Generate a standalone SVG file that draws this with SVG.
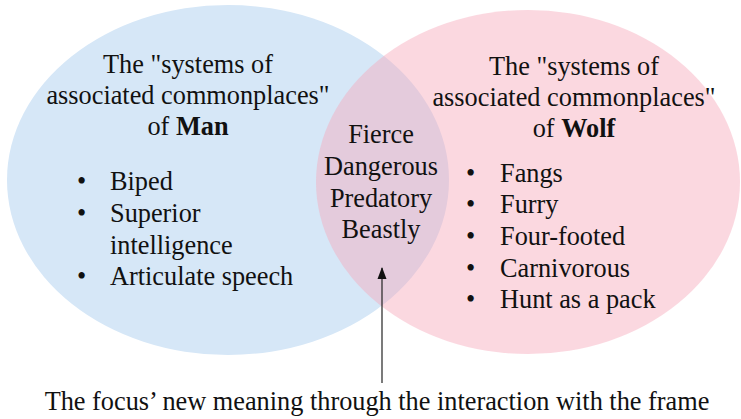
<svg xmlns="http://www.w3.org/2000/svg" width="741" height="419" viewBox="0 0 741 419" font-family="'Liberation Serif', 'Times New Roman', serif">
  <style>
    text { font-size: 26.3px; fill: #111; }
    .mid { text-anchor: middle; }
    .b { font-weight: bold; }
  </style>
  <defs>
    <marker id="arrowhead" viewBox="0 0 12 10" refX="11" refY="5" markerWidth="12" markerHeight="10" orient="auto" markerUnits="userSpaceOnUse">
      <path d="M0,0.5 L12,5 L0,9.5 Z" fill="#111"/>
    </marker>
  </defs>
  <rect width="741" height="419" fill="#ffffff"/>

  <!-- Man set -->
  <g id="man">
    <ellipse cx="228" cy="180" rx="221" ry="175" fill="#d6e7f7"/>
    <text class="mid" x="188" y="73">The "systems of</text>
    <text class="mid" x="188" y="104">associated commonplaces"</text>
    <text class="mid" x="188" y="135">of <tspan class="b">Man</tspan></text>
    <text x="77" y="190">•</text>
    <text x="110" y="190">Biped</text>
    <text x="77" y="222">•</text>
    <text x="110" y="222">Superior</text>
    <text x="110" y="254">intelligence</text>
    <text x="77" y="285">•</text>
    <text x="110" y="285">Articulate speech</text>
  </g>

  <!-- Wolf set -->
  <g id="wolf">
    <ellipse cx="528" cy="182" rx="212" ry="172" fill="#f7a8bb" fill-opacity="0.45"/>
    <text class="mid" x="574" y="75">The "systems of</text>
    <text class="mid" x="574" y="106">associated commonplaces"</text>
    <text class="mid" x="574" y="137">of <tspan class="b">Wolf</tspan></text>
    <text x="466" y="182">•</text>
    <text x="500" y="182">Fangs</text>
    <text x="466" y="213">•</text>
    <text x="500" y="213">Furry</text>
    <text x="466" y="245">•</text>
    <text x="500" y="245">Four-footed</text>
    <text x="466" y="277">•</text>
    <text x="500" y="277">Carnivorous</text>
    <text x="466" y="308">•</text>
    <text x="500" y="308">Hunt as a pack</text>
  </g>

  <!-- Shared attributes -->
  <g id="overlap">
    <text class="mid" x="381" y="143">Fierce</text>
    <text class="mid" x="381" y="175">Dangerous</text>
    <text class="mid" x="381" y="207">Predatory</text>
    <text class="mid" x="381" y="238">Beastly</text>
  </g>

  <!-- Connector -->
  <g id="connectors">
    <line x1="382" y1="383" x2="382" y2="268" stroke="#222" stroke-width="1.2" marker-end="url(#arrowhead)"/>
  </g>

  <g id="caption">
    <text class="mid" x="377" y="410">The focus’ new meaning through the interaction with the frame</text>
  </g>
</svg>
